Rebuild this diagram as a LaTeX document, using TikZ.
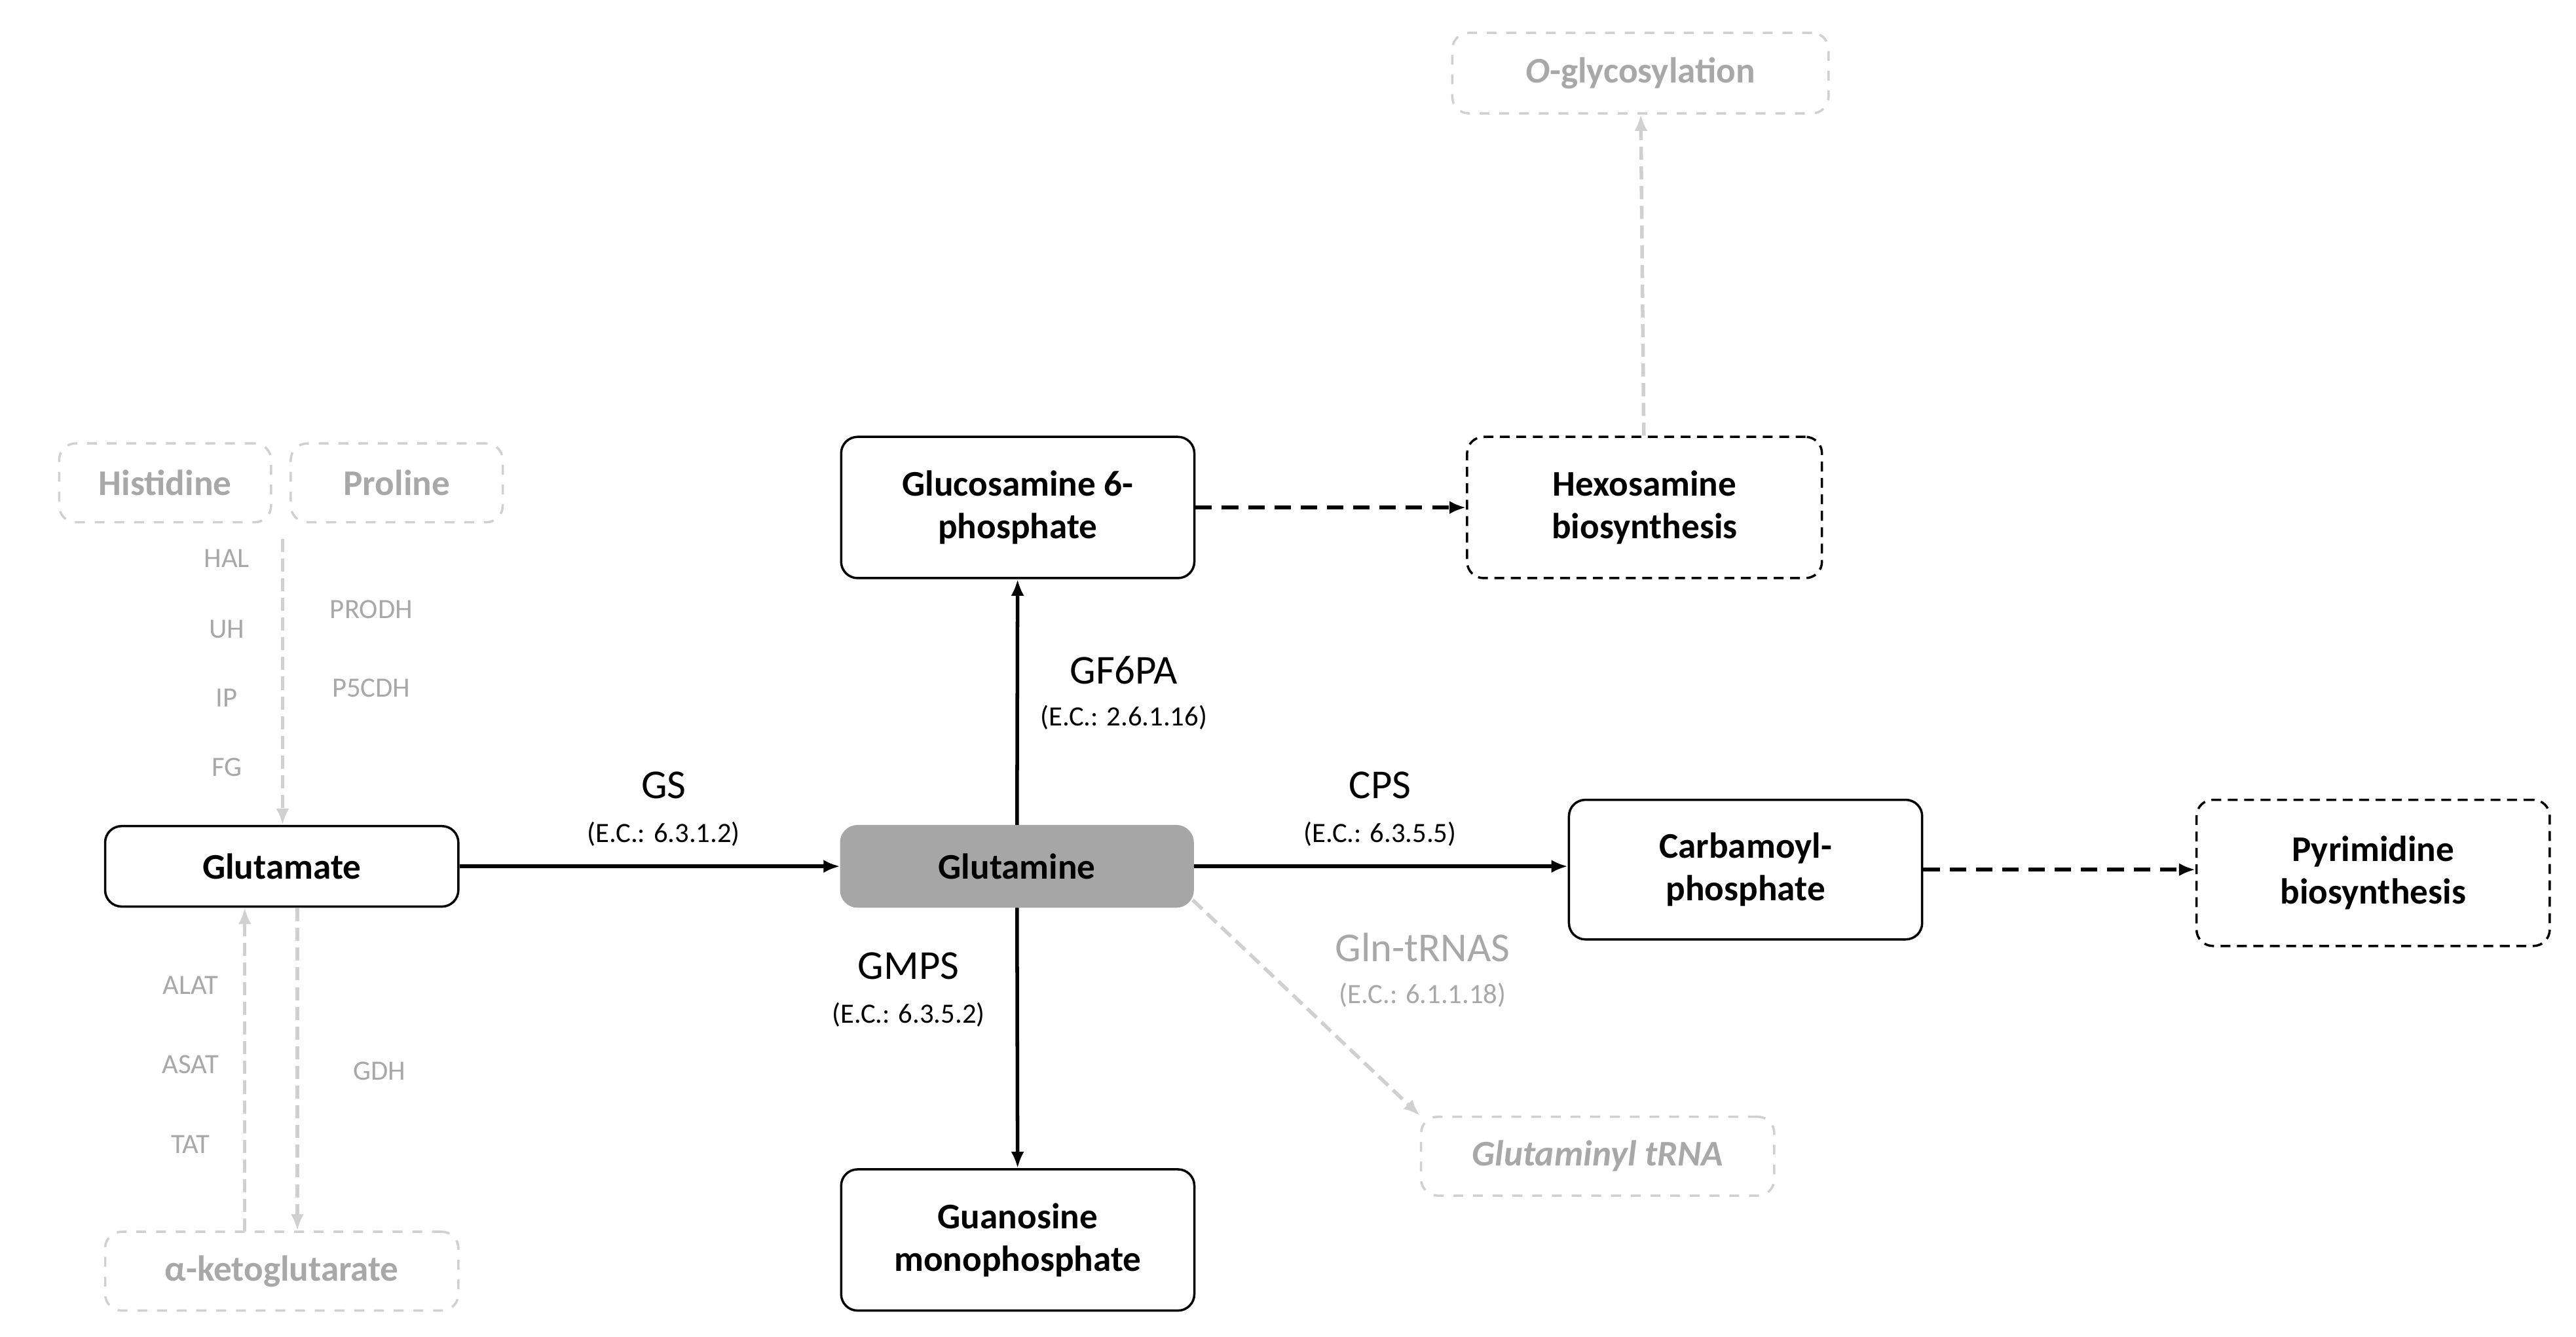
\documentclass[tikz,border=0pt]{standalone}
\usepackage{fontspec}
\setmainfont{Carlito}
\usetikzlibrary{arrows.meta}
\definecolor{lg}{HTML}{D0D0D0}
\definecolor{tg}{HTML}{A8A8A8}
\begin{document}
\begin{tikzpicture}[x=0.5pt,y=-0.5pt,
 box/.style={draw,rounded corners=5pt,line width=0.7pt,align=center,font=\fontsize{11}{13}\selectfont\bfseries,inner sep=0},
 gbox/.style={box,draw=lg,dashed,text=tg},
 ar/.style={line width=1.1pt,-{Latex[length=5pt,width=4pt]}},
 dar/.style={ar,dash pattern=on 5pt off 3pt},
 gar/.style={ar,draw=lg,dash pattern=on 4pt off 2pt},
 lab/.style={font=\fontsize{12.5}{14}\selectfont},
 ec/.style={font=\fontsize{8.5}{10}\selectfont},
 gl/.style={font=\fontsize{8.5}{10}\selectfont,text=tg}]
\useasboundingbox (0,0) rectangle (1568,814);
\def\bx#1#2#3#4#5#6#7{\node[#2,minimum width={(#5-#3)*0.5pt},minimum height={(#6-#4)*0.5pt}] (#1) at ({(#3+#5)/2},{(#4+#6)/2}) {#7};}
\bx{his}{gbox}{36}{270}{165}{318}{Histidine}
\bx{pro}{gbox}{177}{270}{306}{318}{Proline}
\bx{glu}{box}{64}{503}{279}{552}{Glutamate}
\bx{gln}{box,fill=black!35,draw=black!35}{512}{503}{726}{552}{Glutamine}
\bx{g6p}{box}{512}{266}{727}{352}{Glucosamine 6-\\phosphate}
\bx{hex}{box,densely dashed}{893}{266}{1109}{352}{Hexosamine\\biosynthesis}
\bx{ogl}{gbox}{884}{20}{1113}{69}{\textit{O}-glycosylation}
\bx{cp}{box}{955}{487}{1170}{572}{Carbamoyl-\\phosphate}
\bx{pyr}{box,densely dashed}{1337}{487}{1552}{576}{Pyrimidine\\biosynthesis}
\bx{gmp}{box}{512}{712}{727}{798}{Guanosine\\monophosphate}
\bx{trna}{gbox}{865}{680}{1080}{728}{\textit{Glutaminyl tRNA}}
\bx{akg}{gbox}{64}{750}{279}{798}{α-ketoglutarate}
\coordinate (c1) at (726,548);
\draw[ar] (glu) -- (gln);
\draw[ar] (gln) -- (g6p);
\draw[ar] (gln) -- (gmp);
\draw[ar] (gln.east) -- (cp.west|-gln.east);
\draw[gar] (c1) -- (trna.north west);
\draw[dar] (g6p) -- (hex);
\draw[dar] (cp.east) -- (pyr.west|-cp.east);
\draw[gar] (hex) -- (ogl);
\coordinate (p1) at (172,328);
\draw[gar] (p1) -- (glu.north-|p1);
\coordinate (a1) at (149,750); \coordinate (a2) at (181,553);
\draw[gar] (a1) -- (glu.south-|a1);
\draw[gar] (a2) -- (akg.north-|a2);
\node[lab] at (404,478) {GS}; \node[ec] at (404,508) {(E.C.: 6.3.1.2)};
\node[lab] at (684,408) {GF6PA}; \node[ec] at (684,437) {(E.C.: 2.6.1.16)};
\node[lab] at (553,588) {GMPS}; \node[ec] at (553,618) {(E.C.: 6.3.5.2)};
\node[lab] at (840,478) {CPS}; \node[ec] at (840,508) {(E.C.: 6.3.5.5)};
\node[lab,text=tg] at (866,577) {Gln-tRNAS}; \node[ec,text=tg] at (866,606) {(E.C.: 6.1.1.18)};
\foreach \t/\y in {HAL/340,UH/383,IP/425,FG/467} \node[gl] at (138,\y) {\t};
\node[gl] at (226,371) {PRODH}; \node[gl] at (226,419) {P5CDH};
\foreach \t/\y in {ALAT/600,ASAT/648,TAT/697} \node[gl] at (116,\y) {\t};
\node[gl] at (231,652) {GDH};
\end{tikzpicture}
\end{document}
